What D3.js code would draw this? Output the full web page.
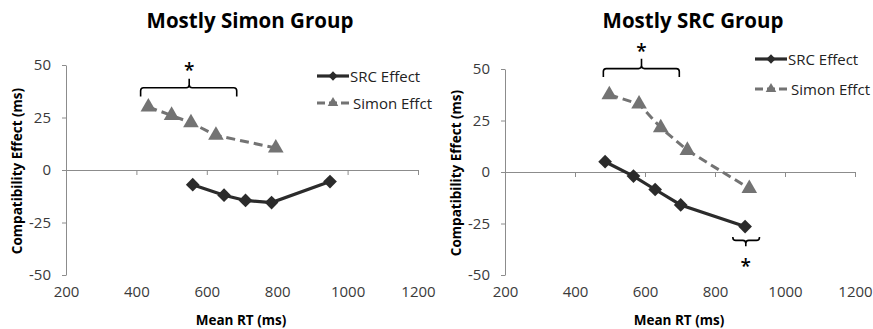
<!DOCTYPE html>
<html>
<head>
<meta charset="utf-8">
<script src="https://cdn.jsdelivr.net/npm/d3@7/dist/d3.min.js"></script>
<style>
  html, body { margin: 0; padding: 0; background: #fff; }
  svg { display: block; font-family: "Open Sans", Lato, sans-serif; }
</style>
</head>
<body>
<svg id="chart" width="873" height="329"></svg>
<script>
// Mean RT (ms) and compatibility effect (ms) per RT bin
const simonGroupSrcRT    = [560, 649, 710, 784, 950];
const simonGroupSrcEff   = [-7, -12, -14.5, -15.5, -5.5];
const simonGroupSimonRT  = [434, 500, 555, 626, 796];
const simonGroupSimonEff = [30, 26, 22.5, 16.5, 10.5];

const srcGroupSrcRT      = [486, 567, 629, 702, 886];
const srcGroupSrcEff     = [5, -2, -8.5, -16, -26.5];
const srcGroupSimonRT    = [498, 583, 645, 721, 898];
const srcGroupSimonEff   = [37.5, 33, 21.5, 10.5, -8];

const xTicks = [200, 400, 600, 800, 1000, 1200];
const yTicks = [-50, -25, 0, 25, 50];
const seriesNames = ["SRC Effect", "Simon Effct"];
const panelTitles = ["Mostly Simon Group", "Mostly SRC Group"];
const xLabel = "Mean RT (ms)";
const yLabel = "Compatibility Effect (ms)";

// significance brackets: [x start, x end, x of the point, bar level, leg end, point tip, star level]
const simonGroupBrackets = [[412, 685, 550, 39.2, 35, 43.5, 49.5]];
const srcGroupBrackets   = [[481, 698, 590, 50.2, 46.1, 55, 60.5],
                            [851, 927, 888, -33.2, -31.5, -36, -43.5]];

const svg = d3.select("#chart");

const panels = [
  {
    title: panelTitles[0], titleX: 250,
    xr: [66, 418], yr: [275, 65], ylabX: 22,
    src: d3.zip(simonGroupSrcRT, simonGroupSrcEff),
    simon: d3.zip(simonGroupSimonRT, simonGroupSimonEff),
    brackets: simonGroupBrackets,
    legend: { x: 317, y: 76, gap: 27 }
  },
  {
    title: panelTitles[1], titleX: 693,
    xr: [505, 855], yr: [275, 69], ylabX: 461,
    src: d3.zip(srcGroupSrcRT, srcGroupSrcEff),
    simon: d3.zip(srcGroupSimonRT, srcGroupSimonEff),
    brackets: srcGroupBrackets,
    legend: { x: 755, y: 59, gap: 30 }
  }
];

const axisColor = "#8c8c8c";
const labelColor = "#3a3a3a";
const srcColor = "#2b2b2b";
const simonColor = "#737373";
const diamond = d3.symbol().type(d3.symbolDiamond2);
const triangle = d3.symbol().type(d3.symbolTriangle2);
const plainNumber = d => String(d);

panels.forEach(p => {
  const x = d3.scaleLinear().domain([200, 1200]).range(p.xr);
  const y = d3.scaleLinear().domain([-50, 50]).range(p.yr);
  const g = svg.append("g");

  // title
  g.append("text")
    .attr("x", p.titleX).attr("y", 28)
    .attr("text-anchor", "middle")
    .attr("font-size", 20.5).attr("font-weight", 700).attr("fill", "#000")
    .text(p.title);

  // y axis
  const yAxis = g.append("g")
    .attr("transform", `translate(${p.xr[0]},0)`)
    .call(d3.axisLeft(y).tickValues(yTicks).tickFormat(plainNumber)
      .tickSize(4).tickPadding(11).tickSizeOuter(0));
  yAxis.select(".domain").attr("stroke", axisColor);
  yAxis.selectAll(".tick line").attr("stroke", axisColor);
  yAxis.selectAll(".tick text")
    .attr("font-size", 15).attr("fill", labelColor).attr("font-family", "'Open Sans', sans-serif");

  // x axis along zero, labels below the plot
  const xAxis = g.append("g")
    .attr("transform", `translate(0,${y(0)})`)
    .call(d3.axisBottom(x).tickValues(xTicks).tickFormat(plainNumber)
      .tickSize(5).tickSizeOuter(0));
  xAxis.select(".domain").attr("stroke", axisColor);
  xAxis.selectAll(".tick line").attr("stroke", axisColor);
  xAxis.selectAll(".tick").filter(d => d === 200).select("line").remove();
  xAxis.selectAll(".tick text")
    .attr("y", y(-50) - y(0) + 22).attr("dy", 0)
    .attr("font-size", 15).attr("fill", labelColor).attr("font-family", "'Open Sans', sans-serif");

  // axis titles
  g.append("text")
    .attr("x", (p.xr[0] + p.xr[1]) / 2 - 1).attr("y", 325)
    .attr("text-anchor", "middle")
    .attr("font-size", 13.5).attr("font-weight", 700).attr("fill", "#000")
    .text(xLabel);
  g.append("text")
    .attr("transform", `translate(${p.ylabX},${(p.yr[0] + p.yr[1]) / 2 + 1}) rotate(-90)`)
    .attr("text-anchor", "middle")
    .attr("font-size", 13.5).attr("font-weight", 700).attr("fill", "#000")
    .text(yLabel);

  // Simon effect: dashed grey line with triangles
  const line = d3.line().x(d => x(d[0])).y(d => y(d[1]));
  g.append("path")
    .datum(p.simon)
    .attr("d", line)
    .attr("fill", "none").attr("stroke", simonColor)
    .attr("stroke-width", 3).attr("stroke-dasharray", "9,5");
  g.selectAll(".tri").data(p.simon).enter().append("path")
    .attr("transform", d => `translate(${x(d[0])},${y(d[1])})`)
    .attr("d", triangle.size(175)())
    .attr("fill", simonColor);

  // SRC effect: solid dark line with diamonds
  g.append("path")
    .datum(p.src)
    .attr("d", line)
    .attr("fill", "none").attr("stroke", srcColor)
    .attr("stroke-width", 3.2);
  g.selectAll(".dia").data(p.src).enter().append("path")
    .attr("transform", d => `translate(${x(d[0])},${y(d[1])})`)
    .attr("d", diamond.size(120)())
    .attr("fill", srcColor);

  // significance brackets with asterisks
  p.brackets.forEach(b => {
    const [x0, x1, xm, yb, ye, yt, ys] = b.map((v, i) => (i < 3 ? x(v) : y(v)));
    const dir = ye > yb ? 1 : -1;
    const r = 3;
    const path = `M${x0},${ye} L${x0},${yb + dir * r} Q${x0},${yb} ${x0 + r},${yb}` +
      ` L${xm - r},${yb} Q${xm},${yb} ${xm},${yb - dir * r} L${xm},${yt}` +
      ` M${xm},${yb - dir * r} Q${xm},${yb} ${xm + r},${yb} L${x1 - r},${yb}` +
      ` Q${x1},${yb} ${x1},${yb + dir * r} L${x1},${ye}`;
    g.append("path").attr("d", path)
      .attr("fill", "none").attr("stroke", "#000").attr("stroke-width", 1.6);
    g.append("text")
      .attr("x", xm).attr("y", ys + 11)
      .attr("text-anchor", "middle")
      .attr("font-size", 19).attr("font-weight", 600).attr("fill", "#000")
      .text("*");
  });

  // legend
  const lg = g.append("g").attr("transform", `translate(${p.legend.x},${p.legend.y})`);
  lg.append("line").attr("x1", 0).attr("x2", 32).attr("y1", 0).attr("y2", 0)
    .attr("stroke", srcColor).attr("stroke-width", 3.2);
  lg.append("path").attr("transform", "translate(16,0)")
    .attr("d", diamond.size(55)()).attr("fill", srcColor);
  lg.append("text").attr("x", 33).attr("y", 5.5)
    .attr("font-size", 15).attr("fill", "#222").text(seriesNames[0]);
  const lg2 = lg.append("g").attr("transform", `translate(0,${p.legend.gap})`);
  lg2.append("line").attr("x1", 0).attr("x2", 32).attr("y1", 0).attr("y2", 0)
    .attr("stroke", simonColor).attr("stroke-width", 3).attr("stroke-dasharray", "8,4");
  lg2.append("path").attr("transform", "translate(16,0)")
    .attr("d", triangle.size(80)()).attr("fill", simonColor);
  lg2.append("text").attr("x", 36).attr("y", 5.5)
    .attr("font-size", 15).attr("fill", "#222").text(seriesNames[1]);
});
</script>
</body>
</html>
